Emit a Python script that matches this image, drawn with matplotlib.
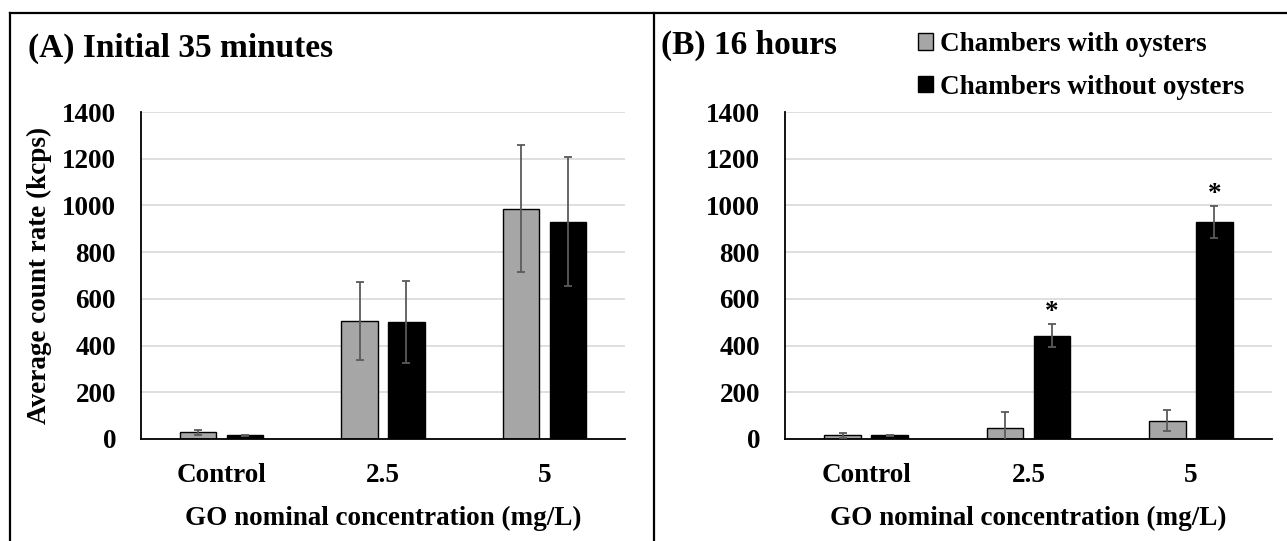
import matplotlib
matplotlib.use("Agg")
import matplotlib.pyplot as plt
import numpy as np
from matplotlib.patches import Patch
from matplotlib.lines import Line2D

plt.rcParams['font.family'] = ['Liberation Serif', 'DejaVu Serif']
plt.rcParams['font.weight'] = 'bold'

categories = ["Control", "2.5", "5"]
series_names = ["Chambers with oysters", "Chambers without oysters"]

# Panel A: initial 35 minutes
a_with = [29, 506, 986]
a_with_err = [11, 166, 273]
a_without = [15, 500, 930]
a_without_err = [4, 175, 276]

# Panel B: 16 hours
b_with = [16, 47, 78]
b_with_err = [10, 70, 45]
b_without = [16, 442, 930]
b_without_err = [3, 50, 68]
b_signif = [False, True, True]

yticks = [0, 200, 400, 600, 800, 1000, 1200, 1400]
titles = ["(A) Initial 35 minutes", "(B) 16 hours"]
xlabel = "GO nominal concentration (mg/L)"
ylabel = "Average count rate (kcps)"

W, H = 1287, 541
fig = plt.figure(figsize=(W / 100, H / 100), dpi=100)

FS = 19.5
GRAY = "#a6a6a6"
ERRC = "#5a5a5a"


def px_axes(left, right, top, bottom):
    return fig.add_axes([left / W, (H - bottom) / H, (right - left) / W, (bottom - top) / H])


def draw(ax, v1, e1, v2, e2, signif=None, show_ylabel=False):
    x = np.arange(len(categories))
    off = 0.145
    bw = 0.225
    ax.bar(x - off, v1, bw, color=GRAY, edgecolor="black", linewidth=1.0, zorder=2)
    ax.bar(x + off, v2, bw, color="black", edgecolor="black", linewidth=1.0, zorder=2)
    ax.errorbar(x - off, v1, yerr=e1, fmt="none", ecolor=ERRC, elinewidth=1.3,
                capsize=3, capthick=1.3, zorder=3)
    ax.errorbar(x + off, v2, yerr=e2, fmt="none", ecolor=ERRC, elinewidth=1.3,
                capsize=3, capthick=1.3, zorder=3)
    if signif is not None:
        for xi, v, e, s in zip(x, v2, e2, signif):
            if s:
                ax.annotate("*", (xi + off, v + e), xytext=(0, -1), textcoords="offset points",
                            ha="center", va="bottom", fontsize=FS, fontweight="bold")
    ax.set_xlim(-0.5, len(categories) - 0.5)
    ax.set_ylim(0, 1400)
    ax.set_yticks(yticks)
    ax.set_xticks(x)
    ax.set_xticklabels(categories)
    ax.tick_params(axis="both", length=0, labelsize=FS)
    ax.tick_params(axis="y", pad=18)
    ax.tick_params(axis="x", pad=17)
    for lab in ax.get_xticklabels() + ax.get_yticklabels():
        lab.set_fontweight("bold")
    ax.grid(axis="y", color="#d9d9d9", linewidth=1.2, zorder=0)
    ax.set_axisbelow(True)
    for s in ["top", "right"]:
        ax.spines[s].set_visible(False)
    ax.spines["left"].set_linewidth(1.3)
    ax.spines["bottom"].set_linewidth(1.3)
    ax.set_xlabel(xlabel, fontsize=FS, fontweight="bold", labelpad=13)
    if show_ylabel:
        ax.set_ylabel(ylabel, fontsize=FS, fontweight="bold", labelpad=7)


axA = px_axes(141, 625, 112, 439)
axB = px_axes(785, 1272, 112, 439)
draw(axA, a_with, a_with_err, a_without, a_without_err, show_ylabel=True)
draw(axB, b_with, b_with_err, b_without, b_without_err, signif=b_signif)

fig.text(28 / W, 1 - 48 / H, titles[0], fontsize=24, fontweight="bold", ha="left", va="center")
fig.text(661 / W, 1 - 45 / H, titles[1], fontsize=24, fontweight="bold", ha="left", va="center")

handles = [Patch(facecolor=GRAY, edgecolor="black", linewidth=1.0),
           Patch(facecolor="black", edgecolor="black", linewidth=1.0)]
fig.legend(handles, series_names, loc="upper left", bbox_to_anchor=(918 / W, 1 - 32 / H),
           frameon=False, prop={"weight": "bold", "size": FS},
           handlelength=0.55, handleheight=0.55, handletextpad=0.25, labelspacing=0.65,
           borderaxespad=0, borderpad=0)

# frame lines
lw = 1.6
fig.add_artist(Line2D([10 / W, 1], [1 - 13 / H, 1 - 13 / H], color="black", linewidth=lw))
fig.add_artist(Line2D([10 / W, 10 / W], [0, 1 - 13 / H], color="black", linewidth=lw))
fig.add_artist(Line2D([654 / W, 654 / W], [0, 1 - 13 / H], color="black", linewidth=lw))

fig.savefig("out.png", dpi=100)
